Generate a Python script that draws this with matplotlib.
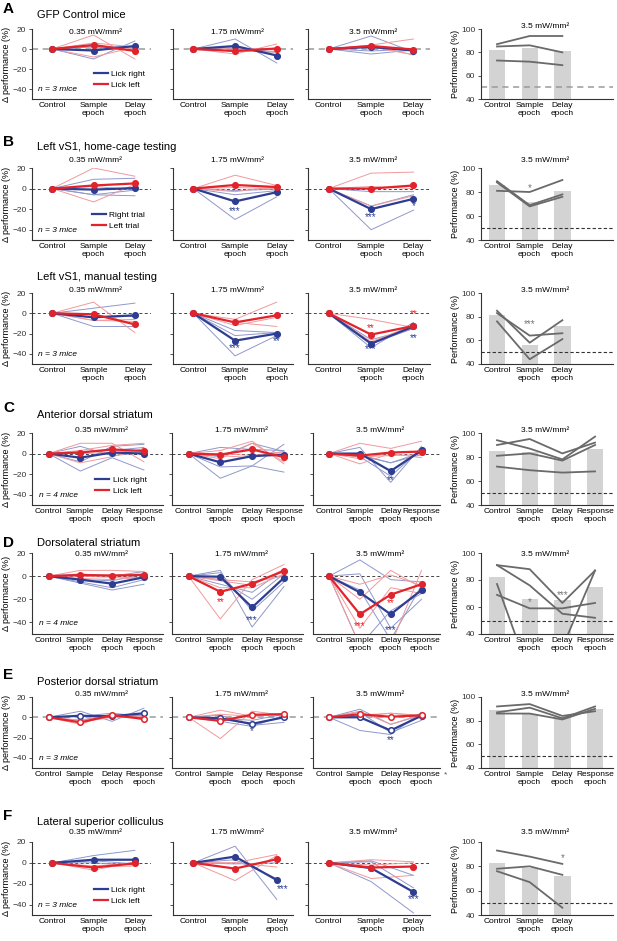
import numpy as np
import matplotlib
matplotlib.use("Agg")
from matplotlib import pyplot as plt
from matplotlib.lines import Line2D

plt.rcParams['font.family'] = ['Liberation Sans', 'DejaVu Sans']

# ---- data (delta performance, %) : one list per dose, [0.35, 1.75, 3.5 mW/mm2] ----
doses = ['0.35 mW/mm²', '1.75 mW/mm²', '3.5 mW/mm²']
epochs3 = ['Control', 'Sample\nepoch', 'Delay\nepoch']
epochs4 = ['Control', 'Sample\nepoch', 'Delay\nepoch', 'Response\nepoch']

# A  GFP control
A_right_mean = [[0, -1.5, 3], [0, 3, -6.5], [0, 2, -1.5]]
A_left_mean = [[0, 4, -2], [0, -2, 0.5], [0, 3, -0.5]]
A_right_mice = [[[0, -10, 8], [0, 3, 2], [0, 2, -1]],
                [[0, 10, -14], [0, 1, -3], [0, -2, -3]],
                [[0, 13, -3], [0, -5, -1], [0, -2, 0]]]
A_left_mice = [[[0, 14, -10], [0, -8, 2], [0, 6, 2]],
               [[0, -5, 5], [0, 1, -1], [0, -2, -3]],
               [[0, 4, 10], [0, 3, -6], [0, 2, -5.5]]]
A_bars = [82, 84, 81]
A_bar_mice = [[87, 94, 94], [85, 86, 80], [73, 72, 69]]

# B  left vS1, home-cage
B1_right_mean = [[0, -1, 0.5], [0, -12.5, -3.5], [0, -20, -10]]
B1_left_mean = [[0, 3, 5], [0, 3.5, 1.5], [0, 0, 3]]
B1_right_mice = [[[0, 9, 10], [0, -6, -7], [0, -6, -1.5]],
                 [[0, -30, -8], [0, -6, -2], [0, -2, -0.5]],
                 [[0, -40, -21], [0, -17, -6], [0, -3, -3]]]
B1_left_mice = [[[0, 20, 12], [0, -13, 4], [0, 2, -1]],
                [[0, 13, 3], [0, -3, 2], [0, 1, 0]],
                [[0, 15, 16], [0, -17, -7], [0, 2, 0]]]
B1_bars = [86, 72, 81]
B1_bar_mice = [[89, 69, 78], [88, 68, 76], [81, 80, 90]]

# B  left vS1, manual
B2_right_mean = [[0, -4, -2], [0, -27, -20], [0, -30, -13]]
B2_left_mean = [[0, -1, -11], [0, -9, -2], [0, -21, -12.5]]
B2_right_mice = [[[0, 5, 10], [0, -13, -13], [0, -4, -3]],
                 [[0, -42, -22], [0, -22, -19], [0, -17, -19]],
                 [[0, -34, -9], [0, -30, -15], [0, -26, -15]]]
B2_left_mice = [[[0, 11, -19], [0, -7, -8], [0, -7, -6]],
                [[0, -6, 11], [0, -9, -13], [0, -12, -4]],
                [[0, -6, -14], [0, -28, -12], [0, -29, -12]]]
B2_bars = [81, 56, 72]
B2_bar_mice = [[85, 58, 77], [83, 64, 66], [76, 44, 61]]

# C  anterior dorsal striatum
C_right_mean = [[0, -4, 1, 0], [0, -8.5, -2.5, -1], [0, 0, -17, 3]]
C_left_mean = [[0, 1, 4, 2.5], [0, -1, 4, -3.5], [0, -2, 1, 2]]
C_right_mice = [[[0, -17, -4, -16], [0, -8, 7, 9], [0, 2, 3, 6], [0, 7, -2, 1]],
                [[0, -24, -12, -18], [0, -13, -12, 9], [0, -3, 10, 2], [0, 6, 4, 3]],
                [[0, 6, -28, 7], [0, -3, -22, 5], [0, -2, -9, -1], [0, -1, -9, 1]]]
C_left_mice = [[[0, 10, 10, -8], [0, -9, -3, 5], [0, 3, 8, 10], [0, 0, 1, 3]],
               [[0, 3, 12, -10], [0, -5, 10, -8], [0, 0, -2, 2], [0, -2, -4, 2]],
               [[0, 10, 5, 12], [0, -10, 0, -4], [0, -3, -2, -1], [0, -5, 1, 1]]]
C_bars = [85, 84, 78, 87]
C_bar_mice = [[94, 87, 78, 97], [90, 95, 83, 92], [81, 83, 77, 90], [72, 69, 67, 68]]

# D  dorsolateral striatum
D_right_mean = [[0, -3, -6.5, -1], [0, -0.5, -27, -1.5], [0, -14, -33, -12]]
D_left_mean = [[0, 1, 0.5, 1], [0, -13.5, -6.5, 4.5], [0, -33, -16, -7]]
D_right_mice = [[[0, -6, -12, -7], [0, -5, -10, -3], [0, -3, -4, 2], [0, 2, 0, 4]],
                [[0, 5, -44, -9], [0, 3, -30, -5], [0, -3, -20, 2], [0, -7, -14, 6]],
                [[0, 2, -45, -20], [0, -12, -55, -8], [0, -60, -30, -15], [0, 14, -3, -5]]]
D_left_mice = [[[0, 5, 5, 4], [0, -2, -3, -1], [0, 1, 1, 2], [0, 0, -1, -1]],
               [[0, -37, -3, 10], [0, -10, -10, 2], [0, -4, -8, 6], [0, -3, -5, 0]],
               [[0, -60, -60, 5], [0, -45, -10, -15], [0, -20, 5, -10], [0, -7, 1, -8]]]
D_bars = [82, 66, 65, 75]
D_bar_mice = [[91, 88, 63, 87], [91, 76, 55, 52], [69, 59, 59, 63], [77, 10, 30, 87]]

# E  posterior dorsal striatum
E_right_mean = [[0, 1.5, 1, 4], [0, -1, -6.5, 0], [0, 0, -13, 1.5]]
E_left_mean = [[0, -5, 2, -1.5], [0, -3.5, 2.5, 3], [0, 3, 0.5, 2]]
E_right_mice = [[[0, 6, -4, 9], [0, -3, 3, 2], [0, 1, 4, 1]],
                [[0, -4, -9, 2], [0, 2, -8, -5], [0, -1, -3, 3]],
                [[0, -13, -17, 5], [0, 5, -15, -3], [0, 8, -7, 2]]]
E_left_mice = [[[0, -7, 4, -3], [0, -5, 0, 1], [0, -3, 2, -2]],
               [[0, -21, 6, 2], [0, 7, 1, 4], [0, 3, 1, 3]],
               [[0, 6, -7, 3], [0, 2, 4, 1], [0, 1, 4, 2]]]
E_bars = [89, 86, 83, 90]
E_bar_mice = [[92, 94, 84, 88], [87, 91, 82, 92], [86, 86, 81, 90]]

# F  lateral superior colliculus
F_right_mean = [[0, 3, 3], [0, 6, -16.5], [0, -5, -28]]
F_left_mean = [[0, -4.5, -0.5], [0, -5.5, 3.5], [0, -4.5, -3.5]]
F_right_mice = [[[0, 7, 12], [0, 2, -1], [0, 0, -2]],
                [[0, 16, -35], [0, 3, -15], [0, -1, 0]],
                [[0, -18, -48], [0, 1, -24], [0, 2, -12]]]
F_left_mice = [[[0, -7, 1], [0, -4, -3], [0, -3, 0]],
               [[0, -17, 7], [0, 0, 8], [0, 0, -4]],
               [[0, -15, -12], [0, 3, 1], [0, -2, 0]]]
F_bars = [83, 79, 72]
F_bar_mice = [[93, 88, 82], [78, 80, 73], [76, 67, 46]]

# significance marks: (panel, x, y, text, colour) ; panel 3 = bar panel
A_stars = []
B1_stars = [(1, 1, -22, '***', 'b'), (2, 1, -28, '***', 'b'), (2, 2, -17, '*', 'b'),
            (3, 1, 83, '*', 'k')]
B2_stars = [(1, 1, -34, '***', 'b'), (1, 2, -27.5, '**', 'b'),
            (2, 1, -14.5, '**', 'r'), (2, 1, -35.5, '***', 'b'),
            (2, 2, -1, '**', 'r'), (2, 2, -24, '**', 'b'), (3, 1, 74, '***', 'k')]
C_stars = [(2, 2, -25.7, '**', 'b')]
D_stars = [(1, 1, -22.5, '**', 'r'), (1, 2, -38, '***', 'b'),
           (2, 1, -43, '***', 'r'), (2, 2, -23.5, '**', 'r'), (2, 2, -47, '***', 'b'),
           (3, 1, 64, '*', 'k'), (3, 2, 69, '***', 'k')]
E_stars = [(1, 2, -14, '*', 'b'), (2, 2, -22.5, '**', 'b')]
F_stars = [(1, 2.15, -24.7, '***', 'b'), (2, 2, -35, '***', 'b'), (3, 2, 87, '*', 'k')]

BLUE = '#2d3e92'
RED = '#e1232b'
LBLUE = '#8f98cc'
LRED = '#f1999c'
GREY = '#6a6a6a'
STAR_COL = {'b': BLUE, 'r': RED, 'k': '#777777'}

W, H = 617, 941
fig = plt.figure(figsize=(W / 100, H / 100), dpi=100)


def px_axes(x0, x1, ytop, ybot):
    return fig.add_axes([x0 / W, 1 - ybot / H, (x1 - x0) / W, (ybot - ytop) / H])


def style(ax):
    for s in ['top', 'right']:
        ax.spines[s].set_visible(False)
    for s in ['left', 'bottom']:
        ax.spines[s].set_linewidth(0.8)
        ax.spines[s].set_color('#333333')
    ax.tick_params(axis='y', length=2.5, width=0.6, labelsize=6, pad=1.5, colors='#333333')
    ax.tick_params(axis='x', length=0, labelsize=6, pad=2)


X3 = [(32, 151), (173, 293), (308, 430)]
X4 = [(32, 163), (172, 303), (313, 440)]
XBAR = (481, 613)

rows = [
    dict(letter='A', title='GFP Control mice', ty=15, ly=9, top=29, bot=99, dy=33, bdy=27,
         rm=A_right_mean, lm=A_left_mean, rmi=A_right_mice, lmi=A_left_mice,
         bars=A_bars, bmi=A_bar_mice, stars=A_stars, n=3,
         leg=('Lick right', 'Lick left'), hollow=False, soft=True),
    dict(letter='B', title='Left vS1, home-cage testing', ty=147, ly=142, top=168, bot=240, dy=160, bdy=160,
         rm=B1_right_mean, lm=B1_left_mean, rmi=B1_right_mice, lmi=B1_left_mice,
         bars=B1_bars, bmi=B1_bar_mice, stars=B1_stars, n=3,
         leg=('Right trial', 'Left trial'), hollow=False, soft=False),
    dict(letter=None, title='Left vS1, manual testing', ty=277, ly=0, top=293, bot=364, dy=291, bdy=291,
         rm=B2_right_mean, lm=B2_left_mean, rmi=B2_right_mice, lmi=B2_left_mice,
         bars=B2_bars, bmi=B2_bar_mice, stars=B2_stars, n=3,
         leg=None, hollow=False, soft=False),
    dict(letter='C', title='Anterior dorsal striatum', ty=415, ly=408, top=433, bot=505, dy=430, bdy=430,
         rm=C_right_mean, lm=C_left_mean, rmi=C_right_mice, lmi=C_left_mice,
         bars=C_bars, bmi=C_bar_mice, stars=C_stars, n=4,
         leg=('Lick right', 'Lick left'), hollow=False, soft=False),
    dict(letter='D', title='Dorsolateral striatum', ty=543, ly=543, top=553, bot=634, dy=555, bdy=555,
         rm=D_right_mean, lm=D_left_mean, rmi=D_right_mice, lmi=D_left_mice,
         bars=D_bars, bmi=D_bar_mice, stars=D_stars, n=4,
         leg=None, hollow=False, soft=False),
    dict(letter='E', title='Posterior dorsal striatum', ty=682, ly=675, top=697, bot=768, dy=694, bdy=694,
         rm=E_right_mean, lm=E_left_mean, rmi=E_right_mice, lmi=E_left_mice,
         bars=E_bars, bmi=E_bar_mice, stars=E_stars, n=3,
         leg=None, hollow=True, soft=True),
    dict(letter='F', title='Lateral superior colliculus', ty=822, ly=816, top=842, bot=915, dy=833, bdy=833,
         rm=F_right_mean, lm=F_left_mean, rmi=F_right_mice, lmi=F_left_mice,
         bars=F_bars, bmi=F_bar_mice, stars=F_stars, n=3,
         leg=('Lick right', 'Lick left'), hollow=False, soft=False),
]

for row in rows:
    ncond = len(row['rm'][0])
    xs = np.arange(ncond)
    xpos = X3 if ncond == 3 else X4
    labels = epochs3 if ncond == 3 else epochs4
    xlim = (-0.49, 2.39) if ncond == 3 else (-0.52, 3.6)
    if row['letter']:
        fig.text(3 / W, 1 - row['ly'] / H, row['letter'], fontsize=11, fontweight='bold', va='center')
    fig.text(37 / W, 1 - row['ty'] / H, row['title'], fontsize=8, va='center')
    zero_kw = dict(color='#9a9a9a', lw=1.1, ls=(0, (4, 3))) if row['soft'] else \
        dict(color='#444444', lw=0.7, ls=(0, (3, 2.5)))

    axes = []
    for p in range(3):
        x0, x1 = xpos[p]
        ax = px_axes(x0, x1, row['top'], row['bot'])
        style(ax)
        ax.axhline(0, zorder=1, **zero_kw)
        for m in row['rmi'][p]:
            ax.plot(xs, m, color=LBLUE, lw=0.7, zorder=2)
        for m in row['lmi'][p]:
            ax.plot(xs, m, color=LRED, lw=0.7, zorder=2)
        for mean, col in [(row['rm'][p], BLUE), (row['lm'][p], RED)]:
            ax.plot(xs, mean, color=col, lw=1.6, marker='o', ms=4,
                    mfc='white' if row['hollow'] else col, mec=col, mew=1.1, zorder=4)
        ax.set_xlim(*xlim)
        ax.set_ylim(-50, 20)
        ax.set_yticks([-40, -20, 0, 20])
        ax.set_xticks(xs)
        ax.set_xticklabels(labels)
        if p > 0:
            ax.set_yticklabels([])
        fig.text((x0 + x1) / 2 / W + 4 / W, 1 - row['dy'] / H, doses[p], fontsize=6,
                 ha='center', va='center')
        axes.append(ax)

    a0 = axes[0]
    a0.set_ylabel('Δ performance (%)', fontsize=6.5, labelpad=1)
    a0.text(0.05, 0.13, 'n = %d mice' % row['n'], transform=a0.transAxes, fontsize=6,
            style='italic', va='center')
    if row['leg']:
        handles = [Line2D([], [], color=BLUE, lw=1.6), Line2D([], [], color=RED, lw=1.6)]
        bx = 1.0 if ncond == 3 else 0.92
        a0.legend(handles, row['leg'], loc='lower right', bbox_to_anchor=(bx, 0.06),
                  frameon=False, fontsize=6, handlelength=1.7, handletextpad=0.4,
                  labelspacing=0.35, borderpad=0.2)

    # bar panel
    bx0, bx1 = XBAR
    bax = px_axes(bx0, bx1, row['top'], row['bot'])
    style(bax)
    bx = np.arange(len(row['bars']))
    bax.bar(bx, row['bars'], width=0.5, color='#d3d3d3', zorder=1)
    bax.axhline(50, zorder=2, **(dict(color='#9a9a9a', lw=1.1, ls=(0, (4, 3))) if row['letter'] == 'A'
                                 else dict(color='#333333', lw=0.8, ls=(0, (3, 2)))))
    for m in row['bmi']:
        bax.plot(bx, m, color=GREY, lw=1.3, zorder=3)
    bax.set_xlim(-0.49, 3.55)
    bax.set_ylim(40, 100)
    bax.set_yticks([40, 60, 80, 100])
    bax.set_xticks(bx)
    bax.set_xticklabels(labels)
    bax.set_ylabel('Performance (%)', fontsize=6.5, labelpad=1)
    fig.text((bx0 + bx1) / 2 / W - 2 / W, 1 - row['bdy'] / H, doses[2], fontsize=6,
             ha='center', va='center')
    axes.append(bax)

    for p, x, y, txt, c in row['stars']:
        axes[p].text(x, y, txt, color=STAR_COL[c], fontsize=7, ha='center', va='center',
                     zorder=6)

# "Response *" mark in E, 3.5 mW/mm2
fig.text(446 / W, 1 - 775 / H, '*', fontsize=6, color='#555555', ha='center', va='center')

fig.savefig('out.png', dpi=100)
